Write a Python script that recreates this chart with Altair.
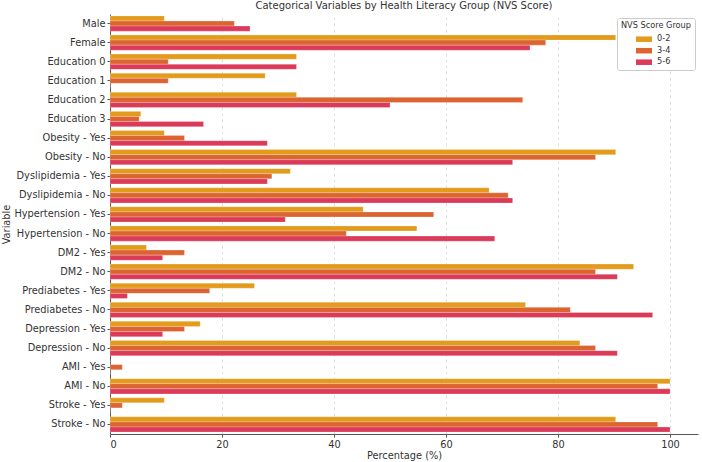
import altair as alt
import pandas as pd

categories = [
    "Male", "Female", "Education 0", "Education 1", "Education 2", "Education 3",
    "Obesity - Yes", "Obesity - No", "Dyslipidemia - Yes", "Dyslipidemia - No",
    "Hypertension - Yes", "Hypertension - No", "DM2 - Yes", "DM2 - No",
    "Prediabetes - Yes", "Prediabetes - No", "Depression - Yes", "Depression - No",
    "AMI - Yes", "AMI - No", "Stroke - Yes", "Stroke - No",
]
groups = ["0-2", "3-4", "5-6"]
v_0_2 = [9.7, 90.3, 33.3, 27.7, 33.3, 5.5, 9.7, 90.3, 32.2, 67.7, 45.2, 54.8,
         6.5, 93.5, 25.8, 74.2, 16.1, 83.9, 0.0, 100.0, 9.7, 90.3]
v_3_4 = [22.2, 77.8, 10.4, 10.4, 73.7, 5.2, 13.3, 86.7, 28.9, 71.1, 57.8, 42.2,
         13.3, 86.7, 17.8, 82.2, 13.3, 86.7, 2.2, 97.8, 2.2, 97.8]
v_5_6 = [25.0, 75.0, 33.3, 0.0, 50.0, 16.7, 28.1, 71.9, 28.1, 71.9, 31.3, 68.7,
         9.4, 90.6, 3.1, 96.9, 9.4, 90.6, 0.0, 100.0, 0.0, 100.0]
colors = ["#E39B1B", "#DC6431", "#DB3A58"]

rows = []
for i, c in enumerate(categories):
    for g, vals in zip(groups, [v_0_2, v_3_4, v_5_6]):
        rows.append({"Variable": c, "Group": g, "Percentage": vals[i]})
df = pd.DataFrame(rows)

font = "DejaVu Sans"

chart = alt.Chart(df).mark_bar(stroke="white", strokeWidth=0.4, strokeOpacity=0.6).encode(
    y=alt.Y("Variable:N", sort=categories,
            scale=alt.Scale(paddingInner=0.2, paddingOuter=0.1),
            axis=alt.Axis(title="Variable", titleX=-99, titleY=210, titleAngle=-90,
                          titleBaseline="bottom", titleAlign="center",
                          tickSize=3, labelPadding=2)),
    yOffset=alt.YOffset("Group:N", sort=groups, scale=alt.Scale(paddingInner=0, paddingOuter=0)),
    x=alt.X("Percentage:Q", scale=alt.Scale(domain=[0, 105], nice=False, zero=True),
            axis=alt.Axis(title="Percentage (%)", values=[0, 20, 40, 60, 80, 100],
                          grid=True, gridDash=[3, 3], gridColor="#dddddd",
                          tickSize=3, labelPadding=2, titlePadding=2)),
    color=alt.Color("Group:N", sort=groups,
                    scale=alt.Scale(domain=groups, range=colors),
                    legend=alt.Legend(title="NVS Score Group", orient="none",
                                      legendX=507, legendY=4,
                                      fillColor="white", strokeColor="#cccccc",
                                      padding=4, cornerRadius=2,
                                      titleFontSize=8.2, titleFontWeight="normal",
                                      titleColor="#333333", labelColor="#333333",
                                      labelFontSize=8.2, symbolOffset=17,
                                      symbolType="M-1.33,-0.46H1.33V0.46H-1.33Z",
                                      symbolSize=144, symbolStrokeWidth=0,
                                      labelOffset=7, rowPadding=1.5, titlePadding=3)),
).properties(
    width=588, height=420,
    title=alt.TitleParams("Categorical Variables by Health Literacy Group (NVS Score)",
                          fontSize=10, fontWeight="normal", color="#333333",
                          anchor="middle", offset=3, font=font),
    autosize=alt.AutoSizeParams(type="none"),
    padding={"left": 110, "top": 14, "right": 4, "bottom": 28},
).configure_view(stroke=None).configure_axis(
    labelFont=font, titleFont=font, labelFontSize=9.8, titleFontSize=9.8,
    labelColor="#333333", titleColor="#333333", titleFontWeight="normal",
    domainColor="#555555", tickColor="#555555", domainWidth=1,
).configure_axisY(grid=False).configure_legend(labelFont=font, titleFont=font)

chart.save("out.html", embed_options={"renderer": "svg", "actions": False})
